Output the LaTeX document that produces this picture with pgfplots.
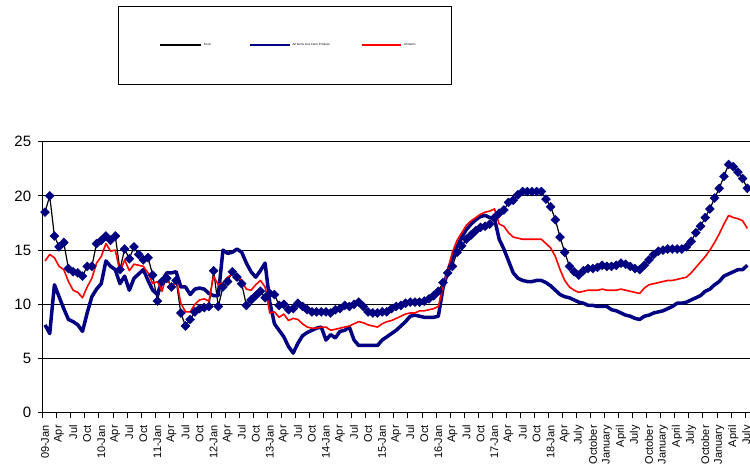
\documentclass[border=0pt]{standalone}
\usepackage{fontspec}
\setmainfont{Liberation Sans}
\usepackage{pgfplots}
\usepackage{pgfplotstable}
\pgfplotsset{compat=1.18}
\definecolor{navy}{RGB}{0,0,128}
\pgfplotstableread{
i food lfp all
0 18.5 8.1 14.0
1 20.0 7.3 14.6
2 16.3 11.8 14.3
3 15.3 10.7 13.5
4 15.7 9.6 13.2
5 13.3 8.6 12.1
6 13.0 8.4 11.3
7 12.9 8.1 11.1
8 12.6 7.5 10.6
9 13.5 9.2 11.6
10 13.5 10.7 12.4
11 15.6 11.4 13.8
12 15.9 11.9 14.4
13 16.3 14.0 15.6
14 15.9 13.5 14.9
15 16.3 13.2 15.0
16 13.2 11.9 13.0
17 15.1 12.6 14.1
18 14.2 11.3 13.1
19 15.3 12.4 13.7
20 14.6 12.8 13.6
21 14.1 13.2 13.5
22 14.3 12.2 12.9
23 12.7 11.3 11.9
24 10.3 10.9 12.1
25 12.1 12.2 11.2
26 12.4 12.9 12.8
27 11.6 12.9 11.3
28 12.2 13.0 12.4
29 9.2 11.6 10.1
30 8.0 11.6 9.3
31 8.6 10.9 9.3
32 9.3 11.4 10.0
33 9.6 11.5 10.4
34 9.7 11.4 10.5
35 9.8 11.0 10.3
36 13.1 10.8 12.6
37 9.8 10.8 11.8
38 11.6 15.0 12.0
39 12.1 14.7 12.5
40 13.0 14.8 12.8
41 12.5 15.1 12.7
42 11.9 14.8 12.2
43 9.9 13.8 11.4
44 10.4 13.0 11.3
45 10.8 12.5 11.8
46 11.2 13.1 12.2
47 10.6 13.8 11.6
48 11.0 10.2 9.2
49 10.9 8.2 9.3
50 9.9 7.6 8.8
51 10.0 7.0 9.1
52 9.5 6.1 8.5
53 9.6 5.5 8.7
54 10.1 6.4 8.6
55 9.8 7.1 8.2
56 9.5 7.4 7.9
57 9.3 7.6 7.8
58 9.3 7.8 7.8
59 9.3 7.9 7.9
60 9.3 6.7 7.9
61 9.2 7.2 7.6
62 9.5 6.9 7.7
63 9.6 7.5 7.8
64 9.9 7.6 7.9
65 9.8 7.9 8.0
66 10.0 6.7 8.2
67 10.2 6.2 8.4
68 9.8 6.2 8.3
69 9.3 6.2 8.1
70 9.2 6.2 8.0
71 9.2 6.2 7.9
72 9.3 6.7 8.2
73 9.3 7.0 8.4
74 9.6 7.3 8.5
75 9.8 7.6 8.7
76 9.9 8.0 8.9
77 10.1 8.4 9.1
78 10.2 8.9 9.2
79 10.2 9.0 9.2
80 10.2 8.9 9.4
81 10.3 8.8 9.4
82 10.5 8.8 9.5
83 10.8 8.8 9.6
84 11.2 8.9 9.8
85 12.0 11.5 11.5
86 12.9 13.0 13.2
87 13.5 14.2 14.8
88 14.8 15.3 15.9
89 15.4 16.2 16.6
90 16.0 16.9 17.3
91 16.4 17.4 17.7
92 16.8 17.8 18.0
93 17.1 18.1 18.3
94 17.2 18.2 18.5
95 17.4 18.0 18.6
96 18.0 17.9 18.8
97 18.4 16.0 17.4
98 18.7 15.1 17.2
99 19.4 14.0 16.6
100 19.6 12.9 16.2
101 20.1 12.4 16.1
102 20.4 12.2 16.0
103 20.4 12.1 16.0
104 20.4 12.1 16.0
105 20.4 12.2 16.0
106 20.4 12.2 16.0
107 19.7 12.0 15.6
108 19.0 11.7 15.2
109 17.8 11.3 14.4
110 16.2 10.9 13.2
111 14.8 10.7 12.2
112 13.5 10.6 11.6
113 13.0 10.4 11.3
114 12.7 10.2 11.1
115 13.1 10.1 11.2
116 13.3 9.9 11.3
117 13.3 9.9 11.3
118 13.4 9.8 11.3
119 13.6 9.8 11.4
120 13.5 9.8 11.3
121 13.5 9.5 11.3
122 13.6 9.4 11.3
123 13.8 9.2 11.4
124 13.7 9.0 11.3
125 13.5 8.9 11.2
126 13.3 8.7 11.1
127 13.2 8.6 11.0
128 13.6 8.9 11.5
129 14.1 9.0 11.8
130 14.6 9.2 11.9
131 14.9 9.3 12.0
132 15.0 9.4 12.1
133 15.1 9.6 12.2
134 15.1 9.8 12.2
135 15.1 10.1 12.3
136 15.1 10.1 12.4
137 15.3 10.2 12.5
138 15.8 10.4 12.9
139 16.6 10.6 13.4
140 17.2 10.8 13.9
141 18.0 11.2 14.4
142 18.8 11.4 15.0
143 19.8 11.8 15.7
144 20.7 12.1 16.5
145 21.8 12.6 17.4
146 22.9 12.8 18.2
147 22.7 13.0 18.0
148 22.2 13.2 17.9
149 21.6 13.2 17.7
150 20.7 13.6 17.0
}\datatable
\begin{document}
\begin{tikzpicture}
\useasboundingbox (0,0) rectangle (750pt,466pt);
\begin{axis}[
  scale only axis,
  width=707.3pt, height=271pt,
  at={(42.7pt,53.3pt)}, anchor=south west,
  xmin=-0.5, xmax=150.57,
  ymin=0, ymax=25,
  separate axis lines,
  axis x line*=bottom, axis y line*=left,
  axis line style={-, black, line width=1pt},
  ytick={0,5,...,25},
  ymajorgrids,
  major grid style={black, line width=1pt},
  tick align=outside,
  major tick length=4.4pt,
  minor tick length=5pt,
  ytick style={black, line width=0.8pt},
  xtick={0,3,...,150},
  major x tick style={draw=none},
  minor xtick={-0.5,2.5,...,150.5},
  minor x tick style={black, line width=0.8pt},
  xticklabels={09-Jan,Apr,Jul,Oct,10-Jan,Apr,Jul,Oct,11-Jan,Apr,Jul,Oct,12-Jan,Apr,Jul,Oct,13-Jan,Apr,Jul,Oct,14-Jan,Apr,Jul,Oct,15-Jan,Apr,Jul,Oct,16-Jan,Apr,Jul,Oct,17-Jan,Apr,Jul,Oct,18-Jan,Apr,July,October,January,April,July,October,January,April,July,October,January,April,July},
  xticklabel style={rotate=90, anchor=east, inner sep=0pt, font=\fontsize{11}{13}\selectfont},
  xticklabel shift=8pt,
  yticklabel style={inner sep=0pt, anchor=east, font=\fontsize{15}{18}\selectfont},
  yticklabel shift=7pt,
  /pgf/number format/assume math mode=true,
  clip=true,
  legend columns=3,
  legend style={at={(0.106,1.5007)}, anchor=north west, draw=black, line width=0.8pt, fill=white,
    font=\fontsize{3}{3.6}\selectfont, inner xsep=33.7pt, inner ysep=35pt,
    /tikz/column 2/.append style={column sep=36pt},
    /tikz/column 4/.append style={column sep=29pt}},
]
\addplot[black, line width=1.2pt, mark=diamond*, mark size=4.5pt,
  mark options={navy, fill=navy, xscale=1.33, line width=0.4pt, solid},
  legend image code/.code={\path[draw=none, fill=none] (0pt,0pt) rectangle (8pt,0.1pt); \draw[black, line width=2pt] (8pt,0pt) -- (49pt,0pt);}]
  table[x=i, y=food] {\datatable};
\addlegendentry{Food}
\addplot[navy, line width=3.5pt, line join=round,
  legend image code/.code={\draw[navy, line width=2pt] (0pt,0pt) -- (40pt,0pt);}]
  table[x=i, y=lfp] {\datatable};
\addlegendentry{All Items less Farm Produce}
\addplot[red, line width=1.6pt, line join=round,
  legend image code/.code={\draw[red, line width=2pt] (0pt,0pt) -- (39pt,0pt);}]
  table[x=i, y=all] {\datatable};
\addlegendentry{All Items}
\end{axis}
\end{tikzpicture}
\end{document}
